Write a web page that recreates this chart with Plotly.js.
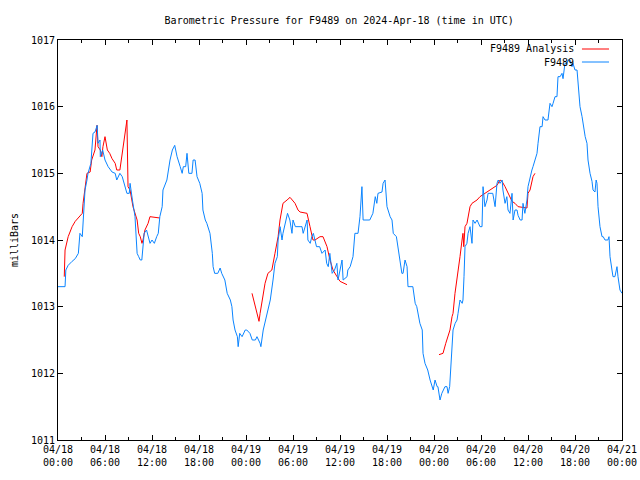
<!DOCTYPE html>
<html>
<head>
<meta charset="utf-8">
<script src="https://cdn.plot.ly/plotly-3.0.1.min.js"></script>
<style>html,body{margin:0;padding:0;background:#fff}#chart{width:640px;height:480px}</style>
</head>
<body>
<div id="chart"></div>
<script>
// Hours since 2024-04-18 00:00 UTC
const obsHours = [0,0.9,1.0,1.3,1.8,2.2,2.6,2.8,3.1,3.2,3.45,3.7,3.83,4.2,4.47,4.72,5.0,5.11,5.36,5.4,5.7,6.0,6.4,6.9,7.3,7.5,7.9,8.2,8.55,8.8,9.1,9.2,9.5,9.83,10.0,10.1,10.3,10.5,10.7,10.85,11.0,11.3,11.5,11.75,12.0,12.3,12.6,12.8,13.0,13.3,13.4,13.9,14.3,14.6,14.9,15.2,15.6,15.85,16.0,16.3,16.47,16.7,17.1,17.25,17.5,17.75,18.1,18.4,18.5,18.8,19.0,19.4,19.7,19.8,20.0,20.4,20.7,20.9,21.3,21.6,22.0,22.2,22.35,22.6,22.9,23.0,23.2,23.5,23.9,24.1,24.5,24.8,25.2,25.4,25.8,25.9,26.2,26.7,27.1,27.45,27.7,28.0,28.1,28.35,28.6,28.72,29.0,29.3,29.6,29.87,30.0,30.3,30.9,31.15,31.3,31.8,31.9,32.2,32.4,32.6,33.0,33.4,33.7,34.1,34.3,34.5,34.7,35.0,35.3,35.6,35.75,36.0,36.26,36.4,36.9,37.0,37.3,37.66,37.8,37.9,38.3,38.55,38.8,38.94,38.95,39.8,40.1,40.2,40.5,40.7,40.85,41.36,41.5,41.75,42.0,42.13,42.4,42.64,42.8,43.2,43.4,43.66,43.9,44.05,44.3,44.56,44.68,45.3,45.6,45.8,46.2,46.5,46.6,46.85,47.2,47.5,47.75,47.9,48.13,48.4,48.5,48.77,49.0,49.15,49.4,49.66,49.8,50.0,50.3,50.43,50.7,50.94,51.07,51.32,51.6,51.7,51.83,51.96,52.2,52.35,52.6,52.85,52.98,53.24,53.5,53.87,54.13,54.26,54.5,54.77,54.9,55.5,55.8,56.04,56.2,56.43,56.7,56.8,57.07,57.3,57.45,57.7,57.96,58.1,58.34,58.6,58.73,59.0,59.24,59.36,59.6,59.87,60.0,60.26,60.5,60.64,60.9,61.15,61.28,61.4,61.53,61.8,61.92,62.17,62.55,62.81,63.06,63.2,63.45,63.7,63.75,63.83,64.1,64.34,64.47,64.72,64.98,65.11,65.36,65.62,65.74,66.0,66.26,66.4,66.64,66.9,67.02,67.3,67.53,67.66,67.92,68.17,68.3,68.55,68.7,68.81,68.94,69.19,69.45,69.6,69.83,70.2,70.34,70.47,70.72,70.85,71.1,71.36,71.49,71.74,72.0];
const obsPressure = [1013.3,1013.3,1013.55,1013.62,1013.68,1013.72,1013.8,1014.1,1014.05,1014.25,1014.75,1014.9,1015.0,1015.15,1015.6,1015.62,1015.72,1015.45,1015.5,1015.25,1015.35,1015.2,1015.1,1015.02,1015.0,1014.9,1015.0,1014.95,1014.8,1014.7,1014.7,1014.85,1014.6,1014.35,1014.0,1013.8,1013.75,1013.7,1013.7,1013.9,1014.1,1014.15,1014.05,1013.95,1014.0,1013.95,1014.05,1014.1,1014.35,1014.5,1014.75,1014.9,1015.2,1015.35,1015.42,1015.25,1015.1,1015.0,1015.1,1015.1,1015.3,1015.0,1015.0,1015.2,1015.2,1014.95,1014.85,1014.7,1014.45,1014.3,1014.25,1014.1,1013.8,1013.6,1013.5,1013.5,1013.58,1013.5,1013.4,1013.2,1013.1,1013.0,1012.8,1012.65,1012.55,1012.4,1012.6,1012.55,1012.65,1012.65,1012.6,1012.5,1012.5,1012.55,1012.45,1012.4,1012.65,1012.9,1013.1,1013.4,1013.65,1013.75,1014.0,1014.2,1014.0,1014.1,1014.25,1014.4,1014.3,1014.1,1014.3,1014.2,1014.2,1014.2,1014.1,1014.3,1014.0,1013.95,1014.05,1014.1,1013.9,1013.9,1013.8,1013.85,1013.65,1013.6,1013.8,1013.5,1013.55,1013.65,1013.4,1013.55,1013.7,1013.4,1013.45,1013.55,1013.6,1013.75,1014.0,1014.1,1014.1,1014.35,1014.8,1014.45,1014.3,1014.3,1014.4,1014.4,1014.65,1014.55,1014.7,1014.72,1014.85,1014.9,1014.5,1014.45,1014.35,1014.3,1014.1,1014.05,1013.9,1013.75,1013.5,1013.5,1013.7,1013.6,1013.3,1013.3,1013.05,1013.0,1012.75,1012.65,1012.3,1012.15,1012.05,1011.9,1011.8,1011.75,1011.9,1011.8,1011.8,1011.6,1011.7,1011.75,1011.8,1011.8,1011.7,1011.8,1012.4,1012.65,1012.75,1012.8,1012.9,1013.1,1013.05,1013.1,1013.45,1013.9,1013.95,1014.1,1014.2,1013.95,1014.3,1014.25,1014.3,1014.2,1014.2,1014.8,1014.5,1014.6,1014.7,1014.7,1014.5,1014.85,1014.9,1014.85,1014.9,1014.75,1014.55,1014.65,1014.45,1014.4,1014.7,1014.3,1014.45,1014.45,1014.37,1014.3,1014.3,1014.55,1014.4,1014.6,1014.8,1014.95,1015.05,1015.1,1015.2,1015.3,1015.45,1015.55,1015.7,1015.7,1015.85,1015.8,1015.8,1016.05,1016.0,1016.05,1016.15,1016.15,1016.3,1016.45,1016.45,1016.5,1016.42,1016.65,1016.65,1016.7,1016.7,1016.6,1016.65,1016.55,1016.55,1016.3,1016.0,1015.85,1015.75,1015.55,1015.45,1015.2,1015.0,1014.88,1014.75,1014.72,1014.9,1014.85,1014.5,1014.2,1014.05,1014.05,1014.0,1014.0,1014.05,1013.75,1013.55,1013.45,1013.45,1013.6,1013.45,1013.25,1013.2];

// Analysis series (null = gap)
const anaHours = [0.8,0.9,1.3,1.8,2.2,2.8,3.1,3.2,3.45,3.7,4.1,4.3,4.72,4.98,5.11,5.4,5.6,5.74,6.0,6.3,6.6,6.9,7.3,7.5,7.9,8.2,8.55,8.8,8.94,9.2,9.57,9.83,10.1,10.3,10.5,10.72,10.85,11.1,11.5,11.74,13.0,
  18.9,
  24.77,25.2,25.5,25.66,25.8,26.2,26.43,26.8,27.3,27.7,28.1,28.34,28.6,28.72,29.24,29.62,30.26,30.64,30.9,31.79,32.17,32.55,32.81,33.45,33.83,34.34,34.72,35.11,35.62,36.0,36.89,
  42.0,
  48.64,49.15,49.5,50.04,50.3,50.43,50.68,50.94,51.07,51.32,51.58,51.7,51.8,51.96,52.21,52.34,52.6,52.85,53.49,53.87,54.77,55.15,56.04,56.43,56.68,57.07,57.45,57.96,58.34,58.73,59.87,60.0,60.26,60.64,60.89];
const anaPressure = [1013.45,1013.85,1014.05,1014.2,1014.28,1014.35,1014.4,1014.55,1014.75,1015.0,1015.02,1015.2,1015.35,1015.72,1015.4,1015.35,1015.25,1015.4,1015.55,1015.35,1015.3,1015.22,1015.15,1015.05,1015.05,1015.3,1015.6,1015.8,1014.8,1014.75,1014.5,1014.4,1014.3,1014.1,1014.05,1013.95,1014.0,1014.15,1014.25,1014.35,1014.33,
  null,
  1013.2,1013.0,1012.9,1012.78,1012.9,1013.15,1013.35,1013.5,1013.55,1013.8,1014.05,1014.3,1014.5,1014.55,1014.6,1014.64,1014.55,1014.45,1014.42,1014.4,1014.2,1014.0,1014.0,1014.05,1014.05,1013.9,1013.7,1013.55,1013.45,1013.38,1013.33,
  null,
  1012.28,1012.3,1012.45,1012.65,1012.85,1012.9,1013.2,1013.4,1013.5,1013.75,1014.0,1014.1,1013.9,1014.2,1014.25,1014.35,1014.5,1014.55,1014.6,1014.65,1014.72,1014.75,1014.82,1014.9,1014.88,1014.8,1014.7,1014.58,1014.55,1014.5,1014.48,1014.7,1014.75,1014.95,1015.0];

const tickHours = [0,6,12,18,24,30,36,42,48,54,60,66,72];
const tickLabels = ["04/18<br>00:00","04/18<br>06:00","04/18<br>12:00","04/18<br>18:00","04/19<br>00:00","04/19<br>06:00","04/19<br>12:00","04/19<br>18:00","04/20<br>00:00","04/20<br>06:00","04/20<br>12:00","04/20<br>18:00","04/21<br>00:00"];
const yTicks = [1011,1012,1013,1014,1015,1016,1017];

const FONT = 'DejaVu Sans Mono, monospace';
const RED = '#ff0000';
const BLUE = '#0a84ff';

const traces = [
  {x: anaHours, y: anaPressure, type:'scatter', mode:'lines', name:'F9489 Analysis',
   line:{color:RED, width:1}, connectgaps:false, hoverinfo:'skip'},
  {x: obsHours, y: obsPressure, type:'scatter', mode:'lines', name:'F9489',
   line:{color:BLUE, width:1}, hoverinfo:'skip'}
];

const layout = {
  width:640, height:480,
  margin:{l:58, r:18, t:40, b:40},
  paper_bgcolor:'#fff', plot_bgcolor:'#fff',
  showlegend:false,
  font:{family:FONT, size:10, color:'#000'},
  title:{text:'Barometric Pressure for F9489 on 2024-Apr-18 (time in UTC)',
         font:{family:FONT, size:10, color:'#000'},
         x:0.53, xanchor:'center', y:0.958, yanchor:'middle', yref:'container'},
  xaxis:{range:[0,72], tickmode:'array', tickvals:tickHours, ticktext:tickLabels,
         showgrid:false, zeroline:false, showline:true, linecolor:'#000', linewidth:1,
         mirror:'ticks', ticks:'inside', ticklen:5, tickcolor:'#000', tickwidth:1,
         minor:{tickmode:'array', tickvals:[3,9,15,21,27,33,39,45,51,57,63,69], ticks:'inside', ticklen:3, tickcolor:'#000', showgrid:false},
         tickfont:{family:FONT, size:10, color:'#000'}, fixedrange:true},
  yaxis:{range:[1011,1017], tickmode:'array', tickvals:yTicks, ticktext:yTicks.map(String),
         showgrid:false, zeroline:false, showline:true, linecolor:'#000', linewidth:1,
         mirror:'ticks', ticks:'inside', ticklen:5, tickcolor:'#000', tickwidth:1,
         tickfont:{family:FONT, size:10, color:'#000'},
         title:{text:'milliBars', font:{family:FONT, size:10, color:'#000'}, standoff:10},
         fixedrange:true},
  annotations:[
    {xref:'paper', yref:'paper', x:0.918, y:0.9775, xanchor:'right', yanchor:'middle', showarrow:false,
     text:'F9489 Analysis', font:{family:FONT, size:10, color:'#000'}},
    {xref:'paper', yref:'paper', x:0.918, y:0.945, xanchor:'right', yanchor:'middle', showarrow:false,
     text:'F9489', font:{family:FONT, size:10, color:'#000'}}
  ],
  shapes:[
    {type:'line', xref:'paper', yref:'paper', x0:0.929, x1:0.977, y0:0.9775, y1:0.9775, line:{color:RED, width:1}},
    {type:'line', xref:'paper', yref:'paper', x0:0.929, x1:0.977, y0:0.945, y1:0.945, line:{color:BLUE, width:1}}
  ]
};

Plotly.newPlot('chart', traces, layout, {staticPlot:true, displayModeBar:false});
</script>
</body>
</html>
